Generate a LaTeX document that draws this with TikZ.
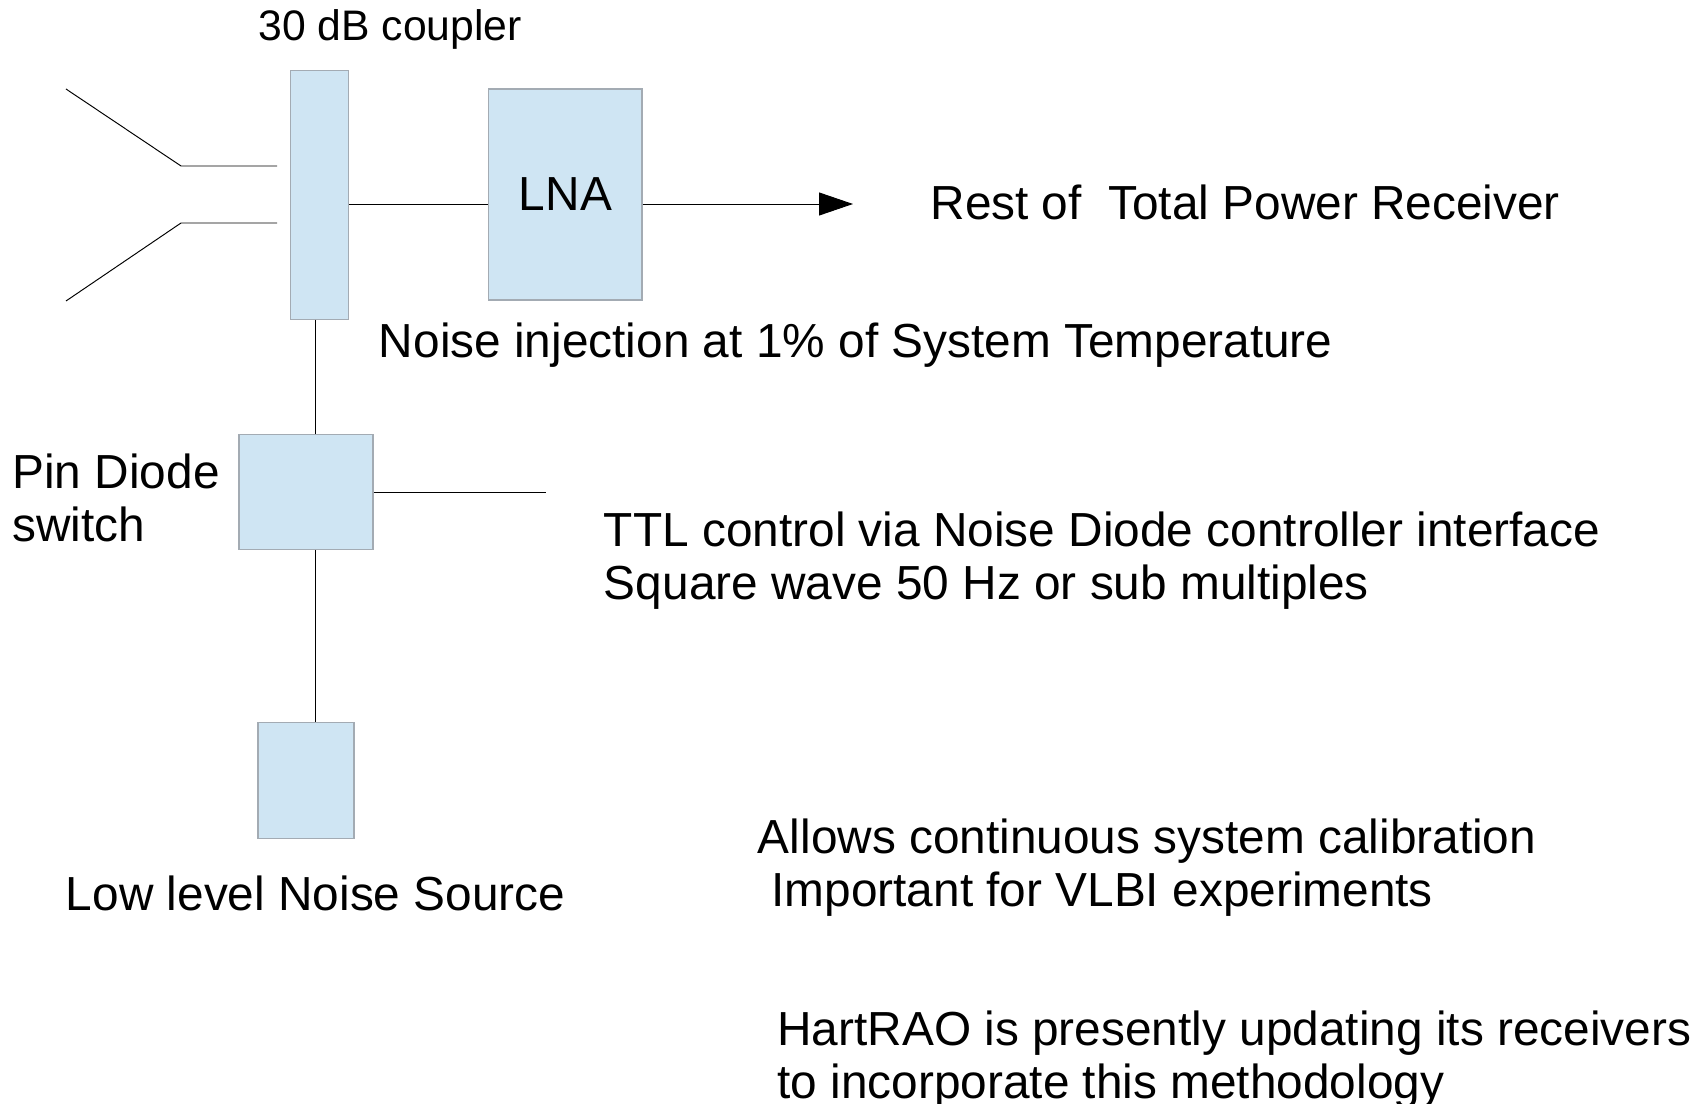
\documentclass[tikz,border=0pt]{standalone}
\usepackage{fontspec}
\setmainfont{Liberation Sans}
\usepackage{tikz}
\usetikzlibrary{arrows.meta}

\definecolor{boxblue}{HTML}{CFE5F3}
\definecolor{boxedge}{HTML}{A3ABB3}

\begin{document}
\begin{tikzpicture}[x=0.02cm, y=-0.02cm, line width=0.55pt]
        \tikzstyle{block} = [rectangle, draw=boxedge, fill=boxblue, inner sep=0pt, line width=0.8pt]
        \tikzstyle{line} = [draw, black]
        \tikzstyle{label} = [inner sep=0pt, anchor=base west, align=left, font=\fontsize{27.2}{30.1}\selectfont]
        \useasboundingbox (0,0) rectangle (1700,1104);

        \node [block, minimum width=1.152cm, minimum height=4.97cm] (coupler) at (319.5,195) {};
        \node [block, minimum width=3.066cm, minimum height=4.22cm] (lna) at (565.3,194.5) {};
        \node [block, minimum width=2.684cm, minimum height=2.31cm] (switch) at (306,492) {};
        \node [block, minimum width=1.928cm, minimum height=2.31cm] (source) at (306,780.5) {};

        \node [label, font=\fontsize{24.3}{28}\selectfont] (couplertext) at (258,40.7) {30 dB coupler};
        \node [label] (lnatext) at (518.5,211) {LNA};
        \node [label] (resttext) at (930,220) {Rest of\ \ Total Power Receiver};
        \node [label] (injecttext) at (378.5,358) {Noise injection at 1\% of System Temperature};
        \node [label] (switchtext) at (12,541) {Pin Diode\\switch};
        \node [label] (ttltext) at (603.5,599) {TTL control via Noise Diode controller interface\\Square wave 50 Hz or sub multiples};
        \node [label] (sourcetext) at (65.5,910) {Low level Noise Source};
        \node [label] (allowstext) at (757.5,906) {Allows continuous system calibration\\\hspace*{0.27cm}Important for VLBI experiments};
        \node [label] (harttext) at (777,1098) {HartRAO is presently updating its receivers\\to incorporate this methodology};

        \coordinate (upperfar) at (66,89);
        \coordinate (upperbend) at (181,166);
        \coordinate (upperend) at (277,166);
        \coordinate (lowerfar) at (66,301);
        \coordinate (lowerbend) at (181,223);
        \coordinate (lowerend) at (277,223);
        \coordinate (output) at (853,204);
        \coordinate (ttlend) at (546,492.4);
        \coordinate (feed) at (315.6,600);

        \path [line] (upperfar) -- (upperbend) -- (upperend);
        \path [line] (lowerfar) -- (lowerbend) -- (lowerend);
        \path [line] (coupler.east |- output) -- (lna.west |- output);
        \path [line, -{Triangle[length=0.68cm, width=0.46cm]}] (lna.east |- output) -- (output);
        \path [line] (coupler.south -| feed) -- (switch.north -| feed);
        \path [line] (switch.south -| feed) -- (source.north -| feed);
        \path [line] (switch.east |- ttlend) -- (ttlend);
    \end{tikzpicture}
\end{document}
